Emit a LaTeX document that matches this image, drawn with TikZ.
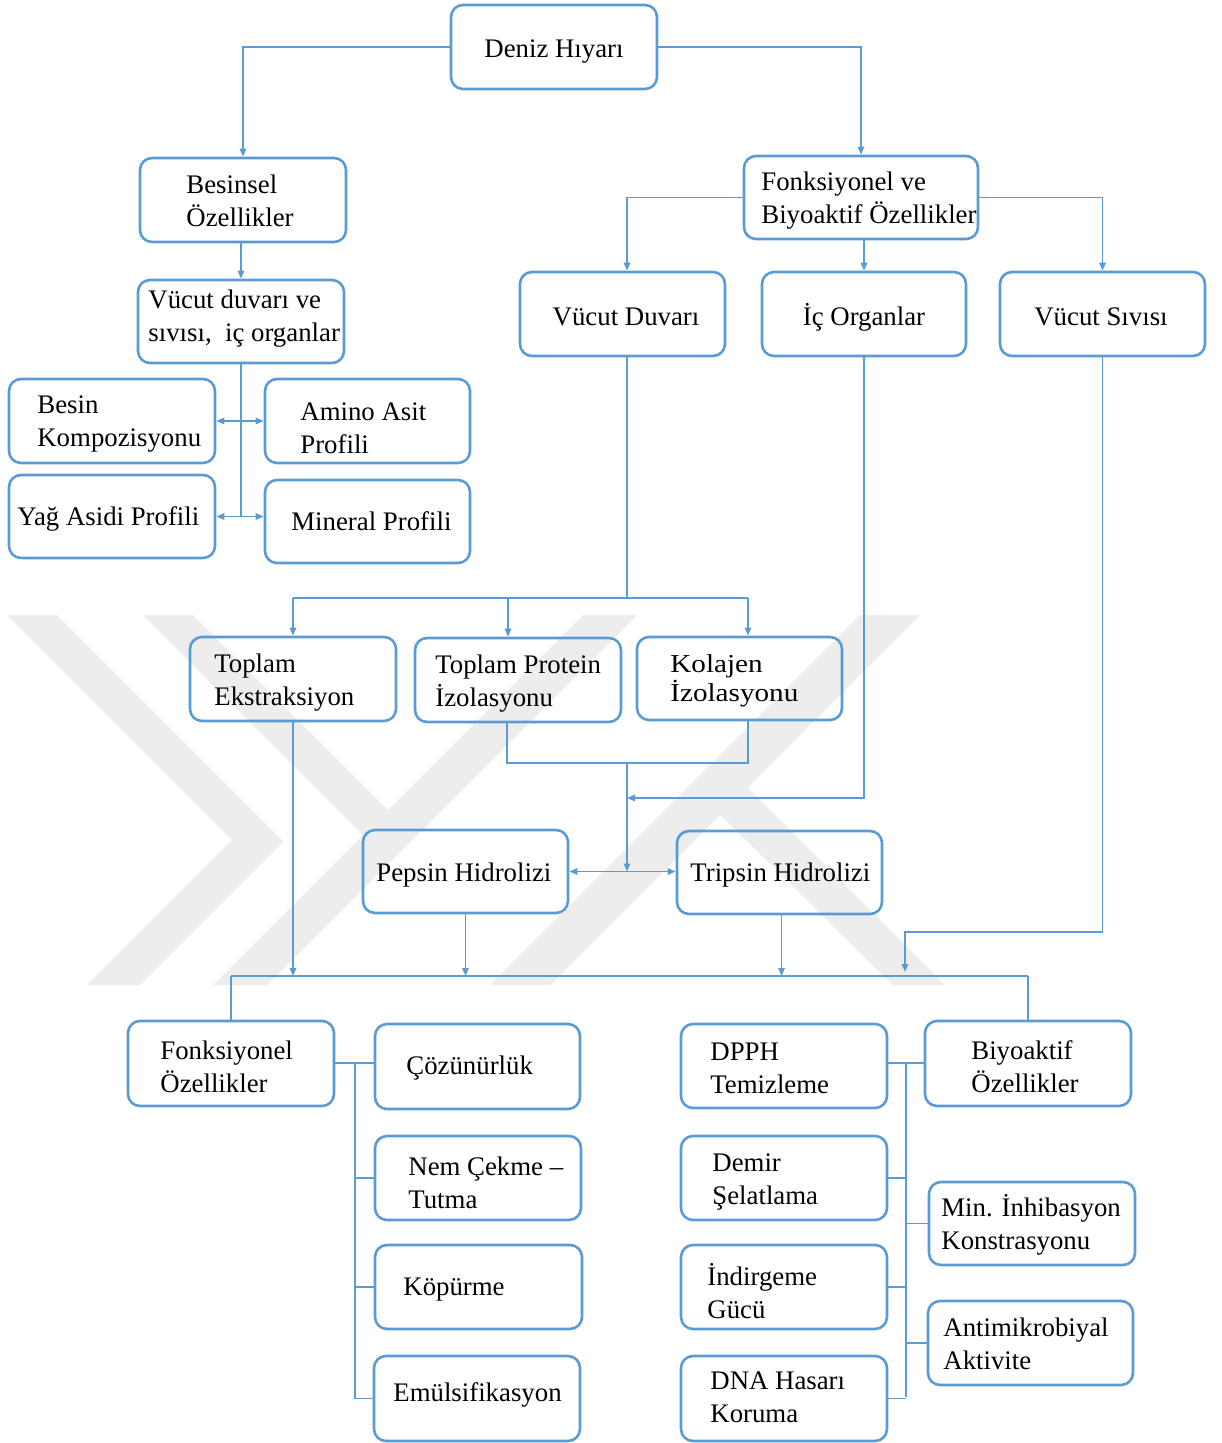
\documentclass[tikz,border=0pt]{standalone}
\usepackage{fontspec}
\setmainfont{Liberation Serif}
\newfontfamily\widefont{Liberation Serif}[FakeStretch=1.13]
\usetikzlibrary{arrows.meta}
\definecolor{lb}{RGB}{91,155,213}
\definecolor{wm}{RGB}{237,237,237}
\begin{document}
\begin{tikzpicture}[x=0.5pt,y=-0.5pt,
  box/.style={draw=lb, line width=1.3pt, rounded corners=6pt, inner sep=0pt},
  txt/.style={font=\fontsize{13.4pt}{16.5pt}\selectfont, align=left, inner sep=0pt, anchor=west, yshift=-1.5pt},
  ln/.style={draw=lb, line width=0.9pt},
  arr/.style={ln, -{Triangle[length=4pt,width=3.2pt]}},
  darr/.style={ln, {Triangle[length=4pt,width=3.2pt]}-{Triangle[length=4pt,width=3.2pt]}},
  wmk/.style={fill=wm, draw=none}]
\useasboundingbox (0,0) rectangle (1221,1443);
% watermark
\fill[wmk] (7,615) -- (57,615) -- (283.5,841.5) -- (140,985) -- (87,985) -- (232,840) -- cycle;
\fill[wmk] (143,615) -- (193,615) -- (400,822) -- (375,847) -- cycle;
\fill[wmk] (213,985) -- (267,985) -- (637,615) -- (583,615) -- cycle;
\fill[wmk] (490,985) -- (550,985) -- (920,615) -- (860,615) -- cycle;
\fill[wmk] (893,985) -- (945,985) -- (745,785) -- (690,785) -- cycle;
% boxes
\node[box, minimum width=103pt, minimum height=42pt] (deniz) at (554,47) {};
\node[box, minimum width=103pt, minimum height=42pt] (besinsel) at (243,200) {};
\node[box, minimum width=103pt, minimum height=41.5pt] (vucutdiv) at (241,321.5) {};
\node[box, minimum width=103pt, minimum height=42pt] (besinkomp) at (112,421) {};
\node[box, minimum width=102.5pt, minimum height=42pt] (amino) at (367.5,421) {};
\node[box, minimum width=103pt, minimum height=41.5pt] (yag) at (112,516.5) {};
\node[box, minimum width=102.5pt, minimum height=41.5pt] (mineral) at (367.5,521.5) {};
\node[box, minimum width=117pt, minimum height=41.5pt] (fonksbiyo) at (861,197.5) {};
\node[box, minimum width=102.5pt, minimum height=42pt] (vd) at (622.5,314) {};
\node[box, minimum width=102pt, minimum height=42pt] (icorg) at (864,314) {};
\node[box, minimum width=102.5pt, minimum height=42pt] (vs) at (1102.5,314) {};
\node[box, minimum width=103pt, minimum height=42pt] (te) at (293,679) {};
\node[box, minimum width=103pt, minimum height=42pt] (tp) at (518,680) {};
\node[box, minimum width=102.5pt, minimum height=41.5pt] (kol) at (739.5,678.5) {};
\node[box, minimum width=102.5pt, minimum height=41.5pt] (pep) at (465.5,871.5) {};
\node[box, minimum width=102.5pt, minimum height=41.5pt] (trip) at (779.5,872.5) {};
\node[box, minimum width=103pt, minimum height=42.5pt] (fo) at (231,1063.5) {};
\node[box, minimum width=102.5pt, minimum height=42.5pt] (coz) at (477.5,1066.5) {};
\node[box, minimum width=103pt, minimum height=42pt] (nem) at (478,1178) {};
\node[box, minimum width=103.5pt, minimum height=42pt] (kop) at (478.5,1287) {};
\node[box, minimum width=103pt, minimum height=42.5pt] (emu) at (477,1398.5) {};
\node[box, minimum width=103pt, minimum height=42pt] (dpph) at (784,1066) {};
\node[box, minimum width=103pt, minimum height=42pt] (demir) at (784,1178) {};
\node[box, minimum width=103pt, minimum height=42pt] (ind) at (784,1287) {};
\node[box, minimum width=103pt, minimum height=42.5pt] (dna) at (784,1398.5) {};
\node[box, minimum width=103pt, minimum height=42.5pt] (bo) at (1028,1063.5) {};
\node[box, minimum width=103pt, minimum height=41.5pt] (mi) at (1032,1223.5) {};
\node[box, minimum width=102.5pt, minimum height=42pt] (am) at (1030.5,1343) {};
% texts
\node[txt, anchor=center] (deniz-t) at (554,49) {Deniz Hıyarı};
\node[txt] (besinsel-t) at (186,198) {Besinsel\\Özellikler};
\node[txt] (vucutdiv-t) at (148,316) {Vücut duvarı ve\\sıvısı,\ \ iç organlar};
\node[txt] (besinkomp-t) at (37,421) {Besin\\Kompozisyonu};
\node[txt] (amino-t) at (300,425) {Amino Asit\\Profili};
\node[txt] (yag-t) at (17,516) {Yağ Asidi Profili};
\node[txt] (mineral-t) at (291,518) {Mineral Profili};
\node[txt] (fonksbiyo-t) at (761,198) {Fonksiyonel ve\\Biyoaktif Özellikler};
\node[txt, anchor=center] (vd-t) at (626,314) {Vücut Duvarı};
\node[txt, anchor=center] (icorg-t) at (864,314) {İç Organlar};
\node[txt, anchor=center] (vs-t) at (1101,314) {Vücut Sıvısı};
\node[txt] (te-t) at (214,680) {Toplam\\Ekstraksiyon};
\node[txt] (tp-t) at (435,681) {Toplam Protein\\İzolasyonu};
\node[txt, font=\widefont\fontsize{12.9pt}{14.5pt}\selectfont] (kol-t) at (670,678) {Kolajen\\İzolasyonu};
\node[txt] (pep-t) at (376,872) {Pepsin Hidrolizi};
\node[txt] (trip-t) at (690,872) {Tripsin Hidrolizi};
\node[txt] (fo-t) at (160,1064) {Fonksiyonel\\Özellikler};
\node[txt] (coz-t) at (406,1065) {Çözünürlük};
\node[txt] (nem-t) at (408,1180) {Nem Çekme –\\Tutma};
\node[txt] (kop-t) at (403,1287) {Köpürme};
\node[txt] (emu-t) at (393,1392) {Emülsifikasyon};
\node[txt] (dpph-t) at (710,1065) {DPPH\\Temizleme};
\node[txt] (demir-t) at (712,1179) {Demir\\Şelatlama};
\node[txt] (ind-t) at (707,1288) {İndirgeme\\Gücü};
\node[txt] (dna-t) at (710,1394) {DNA Hasarı\\Koruma};
\node[txt] (bo-t) at (971,1064) {Biyoaktif\\Özellikler};
\node[txt] (mi-t) at (941,1222) {Min. İnhibasyon\\Konstrasyonu};
\node[txt] (am-t) at (943,1341) {Antimikrobiyal\\Aktivite};
% helper coordinates
\coordinate (b1) at (627,598);
\coordinate (m2) at (627,763);
\coordinate (m3) at (627,798);
\coordinate (b2) at (631,976);
\coordinate (c4) at (905,932);
\coordinate (s1) at (355,1063);
\coordinate (s2) at (906,1063);
% connectors top
\draw[arr] (deniz.west) -| (besinsel.north);
\draw[arr] (deniz.east) -| (fonksbiyo.north);
\draw[arr] (vucutdiv.north |- besinsel.south) -- (vucutdiv.north);
\draw[ln] (vucutdiv.south) -- (vucutdiv.south |- yag.east);
\draw[darr] (besinkomp.east) -- (amino.west);
\draw[darr] (yag.east) -- (yag.east -| mineral.west);
\draw[arr] (fonksbiyo.west) -| (b1 |- vd.north);
\draw[arr] (icorg.north |- fonksbiyo.south) -- (icorg.north);
\draw[arr] (fonksbiyo.east) -| (vs.north);
% middle
\draw[ln] (b1 |- vd.south) -- (b1);
\draw[ln] (te.north |- b1) -- ([xshift=4.25pt]kol.north |- b1);
\draw[arr] (te.north |- b1) -- (te.north);
\draw[arr] ([xshift=-5pt]tp.north |- b1) -- ([xshift=-5pt]tp.north);
\draw[arr] ([xshift=4.25pt]kol.north |- b1) -- ([xshift=4.25pt]kol.north);
\draw[ln] ([xshift=-5.5pt]tp.south) |- (m2) -| ([xshift=4.25pt]kol.south);
\draw[arr] (m2) -- (m2 |- pep.east);
\draw[arr] (icorg.south) |- (m3);
\draw[darr] (pep.east) -- (pep.east -| trip.west);
\draw[arr] (te.south) -- (te.south |- b2);
\draw[arr] (pep.south) -- (pep.south |- b2);
\draw[arr] ([xshift=1pt]trip.south) -- ([xshift=1pt]trip.south |- b2);
\draw[arr, shorten >=2pt] (vs.south) |- (c4) -- (c4 |- b2);
% bottom bus
\draw[ln] (fo.north |- b2) -- (bo.north |- b2);
\draw[ln] (fo.north |- b2) -- (fo.north);
\draw[ln] (bo.north |- b2) -- (bo.north);
% left tree
\draw[ln] (fo.east |- s1) -- (s1) -- (s1 |- emu.west);
\draw[ln] (s1) -- (s1 -| coz.west);
\draw[ln] (s1 |- nem.west) -- (nem.west);
\draw[ln] (s1 |- kop.west) -- (kop.west);
\draw[ln] (s1 |- emu.west) -- (emu.west);
% right tree
\draw[ln] (dpph.east |- s2) -- (bo.west |- s2);
\draw[ln] (s2) -- ([yshift=1pt]s2 |- dna.east);
\draw[ln] (demir.east) -- (demir.east -| s2);
\draw[ln] (s2 |- mi.west) -- (mi.west);
\draw[ln] (ind.east) -- (ind.east -| s2);
\draw[ln] (s2 |- am.west) -- (am.west);
\draw[ln] (dna.east) -- (dna.east -| s2);
\end{tikzpicture}
\end{document}
